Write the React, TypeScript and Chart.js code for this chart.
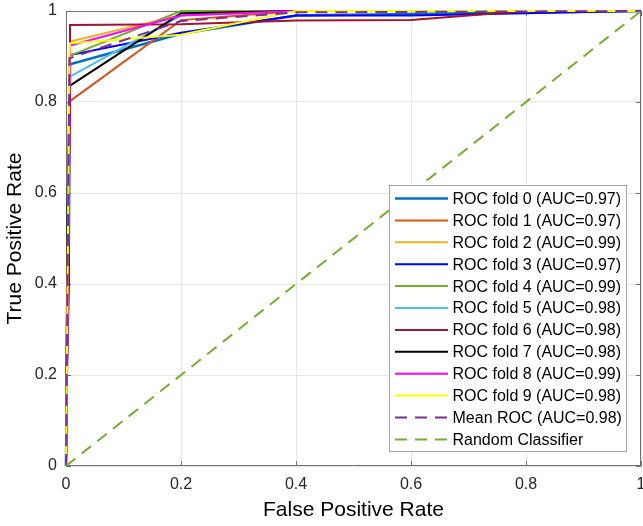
import React, { useEffect, useRef } from "react";
import { Chart, registerables } from "chart.js";

Chart.register(...registerables);

// ---- data ----
const fpr0 = [0, 0.003, 0.007, 0.2, 0.4, 1];
const tpr0 = [0, 0.55, 0.883, 0.95, 0.99, 1];
const fpr1 = [0, 0.004, 0.007, 0.2, 0.4, 1];
const tpr1 = [0, 0.6, 0.802, 0.98, 1, 1];
const fpr2 = [0, 0.004, 0.007, 0.2, 0.4, 1];
const tpr2 = [0, 0.65, 0.933, 0.991, 1, 1];
const fpr3 = [0, 0.002, 0.005, 0.007, 0.2, 0.4, 0.6, 0.8, 1];
const tpr3 = [0, 0.22, 0.4, 0.903, 0.952, 0.99, 0.99, 0.995, 1];
const fpr4 = [0, 0.002, 0.007, 0.2, 1];
const tpr4 = [0, 0.3, 0.902, 1, 1];
const fpr5 = [0, 0.004, 0.007, 0.2, 0.4, 1];
const tpr5 = [0, 0.5, 0.856, 0.99, 1, 1];
const fpr6 = [0, 0.005, 0.007, 0.007, 0.2, 0.4, 0.6, 0.8, 1];
const tpr6 = [0, 0.6, 0.8, 0.969, 0.971, 0.979, 0.98, 1, 1];
const fpr7 = [0, 0.003, 0.007, 0.2, 0.4, 1];
const tpr7 = [0, 0.6, 0.836, 0.995, 1, 1];
const fpr8 = [0, 0.004, 0.007, 0.2, 0.4, 1];
const tpr8 = [0, 0.5, 0.924, 0.99, 1, 1];
const fpr9 = [0, 0.006, 0.007, 0.2, 0.4, 1];
const tpr9 = [0, 0.9, 0.929, 0.948, 1, 1];
const meanFpr = [0, 0.006, 0.2, 0.4, 1];
const meanTpr = [0, 0.896, 0.978, 0.997, 1];
const randomFpr = [0, 1];
const randomTpr = [0, 1];

const foldFprs = [fpr0, fpr1, fpr2, fpr3, fpr4, fpr5, fpr6, fpr7, fpr8, fpr9];
const foldTprs = [tpr0, tpr1, tpr2, tpr3, tpr4, tpr5, tpr6, tpr7, tpr8, tpr9];
const foldAucs = ["0.97", "0.97", "0.99", "0.97", "0.99", "0.98", "0.98", "0.98", "0.99", "0.98"];
const meanAuc = "0.98";
const axisTicks = [0, 0.2, 0.4, 0.6, 0.8, 1];

// ---- styles ----
const foldColors = [
  "#0072BD", "#D95319", "#EDB120", "#0000FF", "#77AC30",
  "#4DBEEE", "#A2142F", "#000000", "#FF00FF", "#FFFF00",
];
const FONT = "'Liberation Sans', Arial, sans-serif";

const toPts = (xs: number[], ys: number[]) => xs.map((x, i) => ({ x, y: ys[i] }));

const framePlugin = {
  id: "frame",
  beforeDatasetsDraw(chart: any) {
    const { ctx, chartArea } = chart;
    const { left, right, top, bottom } = chartArea;
    const xs = chart.scales.x;
    const ys = chart.scales.y;
    ctx.save();
    ctx.strokeStyle = "#707070";
    ctx.lineWidth = 1;
    ctx.beginPath();
    ctx.rect(Math.round(left) + 0.5, Math.round(top) + 0.5, Math.round(right - left) - 1, Math.round(bottom - top) - 1);
    ctx.stroke();
    const tl = 5;
    ctx.beginPath();
    axisTicks.forEach((v) => {
      const px = Math.round(xs.getPixelForValue(v)) + 0.5;
      ctx.moveTo(px, bottom);
      ctx.lineTo(px, bottom - tl);
      ctx.moveTo(px, top);
      ctx.lineTo(px, top + tl);
      const py = Math.round(ys.getPixelForValue(v)) + 0.5;
      ctx.moveTo(left, py);
      ctx.lineTo(left + tl, py);
      ctx.moveTo(right, py);
      ctx.lineTo(right - tl, py);
    });
    ctx.stroke();
    ctx.restore();
  },
};

const legendPlugin = {
  id: "boxLegend",
  afterDraw(chart: any) {
    const { ctx } = chart;
    const bx = 389.5, by = 185.5, bw = 237, bh = 266;
    ctx.save();
    ctx.fillStyle = "#ffffff";
    ctx.fillRect(bx, by, bw, bh);
    ctx.strokeStyle = "#a6a6a6";
    ctx.lineWidth = 1;
    ctx.strokeRect(bx, by, bw, bh);
    ctx.font = `16px ${FONT}`;
    ctx.textBaseline = "middle";
    ctx.textAlign = "left";
    chart.data.datasets.forEach((ds: any, i: number) => {
      const y = 198.5 + i * 21.9;
      ctx.beginPath();
      ctx.strokeStyle = ds.borderColor;
      ctx.lineWidth = ds.borderWidth;
      ctx.setLineDash(ds.borderDash || []);
      ctx.moveTo(395, y);
      ctx.lineTo(448, y);
      ctx.stroke();
      ctx.setLineDash([]);
      ctx.fillStyle = "#000000";
      ctx.fillText(ds.label, 452.5, y + 1);
    });
    ctx.restore();
  },
};

export default function App() {
  const ref = useRef<HTMLCanvasElement | null>(null);

  useEffect(() => {
    if (!ref.current) return;
    Chart.defaults.font.family = FONT;
    const datasets: any[] = foldFprs.map((fx, i) => ({
      label: `ROC fold ${i} (AUC=${foldAucs[i]})`,
      data: toPts(fx, foldTprs[i]),
      borderColor: foldColors[i],
      borderWidth: i === 0 ? 2.5 : 2,
      pointRadius: 0,
      fill: false,
      tension: 0,
      order: 30 - i,
      clip: 6,
    }));
    datasets.push({
      label: `Mean ROC (AUC=${meanAuc})`,
      data: toPts(meanFpr, meanTpr),
      borderColor: "#7E2F8E",
      borderWidth: 2,
      borderDash: [12, 8],
      pointRadius: 0,
      fill: false,
      tension: 0,
      order: 2,
      clip: 6,
    });
    datasets.push({
      label: "Random Classifier",
      data: toPts(randomFpr, randomTpr),
      borderColor: "#77AC30",
      borderWidth: 2,
      borderDash: [12, 8],
      pointRadius: 0,
      fill: false,
      tension: 0,
      order: 1,
      clip: 6,
    });

    const fmt = (v: any) => String(Number(Number(v).toFixed(1)));

    const chart = new Chart(ref.current, {
      type: "line",
      data: { datasets },
      options: {
        animation: false,
        responsive: false,
        events: [],
        layout: { padding: { left: 0, right: 2, top: 11, bottom: 0 } },
        plugins: { legend: { display: false }, tooltip: { enabled: false } },
        scales: {
          x: {
            type: "linear",
            min: 0,
            max: 1,
            afterFit: (s: any) => {
              s.height = 60;
              s.paddingLeft = 0;
              s.paddingRight = 0;
            },
            afterBuildTicks: (s: any) => {
              s.ticks = axisTicks.map((v) => ({ value: v }));
            },
            ticks: {
              autoSkip: false,
              maxRotation: 0,
              padding: 9,
              color: "#262626",
              font: { size: 16, family: FONT },
              callback: fmt,
            },
            grid: { color: "#e6e6e6", drawTicks: false },
            border: { display: false },
            title: {
              display: true,
              text: "False Positive Rate",
              color: "#000000",
              font: { size: 21, family: FONT },
              padding: { top: 0, bottom: 3 },
            },
          },
          y: {
            type: "linear",
            min: 0,
            max: 1,
            afterFit: (s: any) => {
              s.width = 66;
              s.paddingTop = 0;
              s.paddingBottom = 0;
            },
            afterBuildTicks: (s: any) => {
              s.ticks = axisTicks.map((v) => ({ value: v }));
            },
            ticks: {
              autoSkip: false,
              padding: 9,
              color: "#262626",
              font: { size: 16, family: FONT },
              callback: fmt,
            },
            grid: { color: "#e6e6e6", drawTicks: false },
            border: { display: false },
            title: {
              display: true,
              text: "True Positive Rate",
              color: "#000000",
              font: { size: 21, family: FONT },
              padding: { top: 3, bottom: 0 },
            },
          },
        },
      },
      plugins: [framePlugin, legendPlugin],
    } as any);

    return () => chart.destroy();
  }, []);

  return (
    <div style={{ position: "fixed", left: 0, top: 0, width: 643, height: 526, background: "#fff" }}>
      <canvas ref={ref} width={643} height={526} style={{ display: "block" }} />
    </div>
  );
}
